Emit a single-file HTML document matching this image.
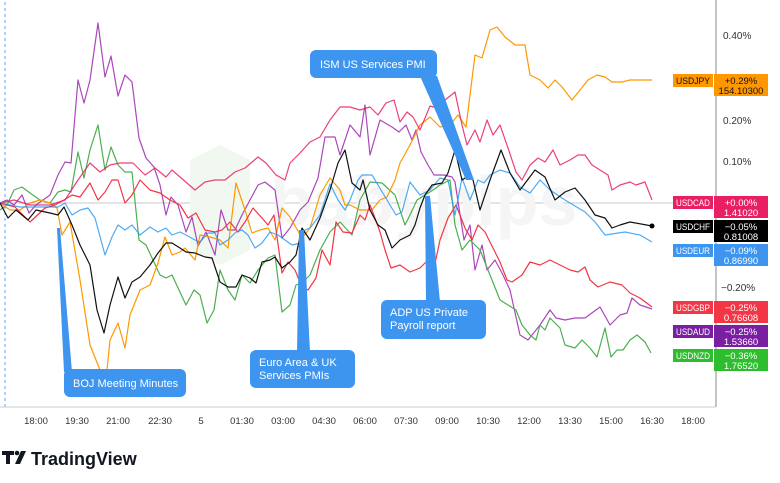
<!DOCTYPE html>
<html><head><meta charset="utf-8"><style>
body{margin:0;background:#fff;width:780px;height:483px;overflow:hidden;font-family:"Liberation Sans",sans-serif}
svg{position:absolute;left:0;top:0}
</style></head><body>
<svg width="780" height="483" viewBox="0 0 780 483" font-family="Liberation Sans, sans-serif">
<rect width="780" height="483" fill="#fff"/>
<line x1="5" y1="2" x2="5" y2="407" stroke="#6aa6f0" stroke-dasharray="3,3" stroke-width="1"/>
<line x1="0" y1="203" x2="716" y2="203" stroke="#c8c8c8"/>
<polygon points="190,160 220,145 250,160 250,250 220,265 190,250" fill="#f1f8ef"/>
<text x="270" y="225" font-size="70" font-weight="bold" fill="#f5f5f5">babypips</text>
<g fill="none" stroke-width="1.2" stroke-linejoin="round">
<polyline stroke="#9c27b0" stroke-opacity=".85" points="0,203 7,200 14,205 22,195 29,213 36,205 50,195 58,175 65,162 71,163 78,80 84,103 90,80 98,23 105,77 111,56 118,96 125,75 132,82 139,138 146,158 154,167 160,185 166,215 171,197 178,205 186,232 192,217 198,246 206,232 215,255 221,210 228,230 235,230 242,215 250,200 258,185 265,182 275,190 282,238 290,228 300,210 308,202 318,178 325,137 335,137 340,155 350,125 360,137 365,105 370,155 380,120 392,127 399,132 406,125 412,140 416,130 421,152 428,165 434,175 444,175 452,177 455,182 464,240 470,225 475,270 482,245 487,270 495,260 502,273 510,290 520,335 528,340 540,325 550,310 556,318 565,320 575,318 585,318 600,307 610,325 620,315 627,313 632,298 640,305 652,309"/>
<polyline stroke="#4caf50" points="0,210 7,205 14,190 22,187 30,193 40,200 50,203 58,192 65,190 71,192 78,152 84,178 90,150 98,125 105,170 111,147 118,165 125,172 132,172 139,240 146,245 160,275 166,278 172,275 186,305 194,290 200,295 207,323 214,310 220,270 228,290 235,300 242,275 250,283 258,270 268,258 275,255 282,312 290,305 296,285 303,282 310,275 320,250 330,232 340,222 352,235 360,200 370,182 382,183 395,195 405,225 410,215 417,200 425,195 433,190 440,185 450,180 455,225 462,250 470,240 480,250 490,275 500,300 508,305 516,310 522,325 530,335 536,340 540,325 545,330 550,318 560,328 565,345 575,348 582,340 590,348 597,357 605,328 611,357 617,350 623,350 630,340 637,335 645,342 651,353"/>
<polyline stroke="#ff9800" points="0,203 10,210 20,210 30,203 40,200 50,203 57,208 62,235 70,222 80,280 90,345 100,370 106,380 110,340 118,323 125,348 130,315 140,290 150,285 158,263 165,237 172,255 180,252 185,248 195,260 200,235 210,237 220,240 228,248 236,183 245,210 252,233 260,230 268,228 275,240 282,208 290,217 302,238 310,228 320,195 330,178 340,190 345,205 350,205 360,210 372,210 380,200 387,197 395,180 400,163 410,145 420,125 430,117 440,127 450,125 458,115 466,127 475,55 482,58 490,30 497,27 505,37 515,45 525,45 530,75 540,80 548,88 555,80 562,87 572,100 580,90 588,80 597,75 605,77 612,82 622,82 630,80 640,80 652,80"/>
<polyline stroke="#f23645" points="0,203 15,207 30,222 45,208 55,205 64,200 72,195 80,197 90,183 98,200 105,192 112,180 118,180 125,203 132,195 140,180 150,190 160,193 170,200 180,205 188,218 196,213 205,230 215,232 222,230 230,222 238,232 245,222 253,208 262,218 268,225 274,215 282,273 288,262 295,270 302,287 308,290 316,278 322,250 330,265 336,222 343,232 352,233 360,215 365,220 370,205 375,218 380,232 385,250 391,268 400,265 410,272 420,268 426,262 433,273 440,240 448,218 456,205 465,228 472,240 478,225 485,232 490,242 500,262 507,280 512,282 522,275 530,262 540,265 550,260 560,265 570,270 578,272 585,267 590,280 598,287 610,282 622,285 630,293 640,298 652,307"/>
<polyline stroke="#e91e63" stroke-opacity=".85" points="0,203 14,200 30,205 50,205 65,200 78,180 90,163 100,172 110,165 120,163 133,163 145,175 155,168 166,177 172,170 180,177 195,190 205,182 215,180 225,180 235,172 245,168 258,157 266,163 276,175 285,180 290,163 300,153 310,142 320,137 330,120 340,107 350,107 360,110 370,107 378,115 386,103 394,100 400,122 407,112 413,117 420,130 430,106 437,108 445,100 455,92 462,125 467,145 475,130 480,142 487,120 493,135 500,125 508,148 516,172 522,180 530,165 538,158 545,162 553,150 560,165 570,160 578,155 585,155 592,165 600,170 608,175 612,190 620,185 630,182 636,185 645,182 652,200"/>
<polyline stroke="#2196f3" stroke-opacity=".8" points="0,203 20,207 40,207 58,207 65,203 72,215 80,210 88,208 95,218 105,255 112,237 118,225 125,230 132,225 140,235 150,227 158,232 166,228 172,235 180,232 186,235 195,240 200,242 208,233 215,233 220,245 228,240 236,232 242,230 248,235 255,248 262,243 270,232 278,235 285,240 292,245 300,243 305,230 310,228 320,215 330,184 338,200 345,210 350,200 358,180 362,175 372,175 375,180 390,205 396,215 402,212 410,182 420,195 430,190 440,178 448,180 455,215 462,178 470,200 478,180 484,183 490,175 500,170 510,173 520,187 530,193 540,180 550,190 565,200 585,212 595,222 605,235 625,232 640,235 652,242"/>
<polyline stroke="#111" points="0,203 8,218 16,210 28,220 36,210 50,213 58,215 64,207 72,225 80,245 90,265 97,310 104,333 110,305 118,277 125,298 132,282 140,277 150,265 158,253 166,243 172,243 180,248 186,252 195,253 205,257 212,258 220,282 228,287 236,287 242,275 250,278 256,283 262,262 270,260 275,257 282,268 290,262 296,255 302,228 310,240 320,218 330,190 338,163 345,150 352,183 360,190 363,180 370,210 378,225 385,230 392,248 400,240 410,235 415,225 420,208 425,195 432,185 442,183 448,173 455,150 462,180 470,175 473,180 480,210 490,180 501,150 510,173 520,190 535,170 545,177 555,200 565,192 575,188 585,200 595,215 605,218 612,228 620,225 630,222 652,226"/>
</g>
<circle cx="652" cy="226" r="2.5" fill="#000"/>
<g fill="#3d95f0">
<rect x="310" y="50" width="127" height="28" rx="6"/>
<polygon points="420,76 437,76 474,180 466,180"/>
<rect x="64" y="369" width="122" height="28" rx="6"/>
<polygon points="57,228 60,228 72,372 64,372"/>
<rect x="250" y="350" width="105" height="38" rx="6"/>
<polygon points="299,230 304,230 310,352 297,352"/>
<rect x="381" y="300" width="105" height="39" rx="6"/>
<polygon points="425,196 430,196 440,302 426,302"/>
</g>
<g fill="#fff" font-size="11">
<text x="320" y="68">ISM US Services PMI</text>
<text x="73" y="387">BOJ Meeting Minutes</text>
<text x="259" y="366">Euro Area &amp; UK</text><text x="259" y="379">Services PMIs</text>
<text x="390" y="316">ADP US Private</text><text x="390" y="329">Payroll report</text>
</g>
<line x1="716" y1="0" x2="716" y2="407" stroke="#888"/>
<line x1="0" y1="407" x2="716" y2="407" stroke="#ccc"/>
<g font-size="10" fill="#333">
<text x="723" y="39">0.40%</text><text x="723" y="124">0.20%</text><text x="723" y="165">0.10%</text><text x="721" y="291">−0.20%</text>
</g>
<g font-size="9.5" fill="#333" text-anchor="middle">
<text x="36" y="424">18:00</text><text x="77" y="424">19:30</text><text x="118" y="424">21:00</text><text x="160" y="424">22:30</text><text x="201" y="424">5</text><text x="242" y="424">01:30</text><text x="283" y="424">03:00</text><text x="324" y="424">04:30</text><text x="365" y="424">06:00</text><text x="406" y="424">07:30</text><text x="447" y="424">09:00</text><text x="488" y="424">10:30</text><text x="529" y="424">12:00</text><text x="570" y="424">13:30</text><text x="611" y="424">15:00</text><text x="652" y="424">16:30</text><text x="693" y="424">18:00</text>
</g>
<g font-size="9.5">
<rect x="673" y="74" width="40" height="13" fill="#ff9800"/><rect x="714" y="74" width="54" height="22" fill="#ff9800"/>
<text x="676" y="84" fill="#111" textLength="34" lengthAdjust="spacingAndGlyphs">USDJPY</text><text x="741" y="84" fill="#111" text-anchor="middle">+0.29%</text><text x="741" y="94" fill="#111" text-anchor="middle">154.10300</text>
<rect x="673" y="196" width="40" height="13" fill="#e91e63"/><rect x="714" y="196" width="54" height="22" fill="#e91e63"/>
<text x="676" y="206" fill="#fff" textLength="34" lengthAdjust="spacingAndGlyphs">USDCAD</text><text x="741" y="206" fill="#fff" text-anchor="middle">+0.00%</text><text x="741" y="216" fill="#fff" text-anchor="middle">1.41020</text>
<rect x="673" y="220" width="40" height="13" fill="#000"/><rect x="714" y="220" width="54" height="22" fill="#000"/>
<text x="676" y="230" fill="#fff" textLength="34" lengthAdjust="spacingAndGlyphs">USDCHF</text><text x="741" y="230" fill="#fff" text-anchor="middle">−0.05%</text><text x="741" y="240" fill="#fff" text-anchor="middle">0.81008</text>
<rect x="673" y="244" width="40" height="13" fill="#3d95f0"/><rect x="714" y="244" width="54" height="22" fill="#3d95f0"/>
<text x="676" y="254" fill="#fff" textLength="34" lengthAdjust="spacingAndGlyphs">USDEUR</text><text x="741" y="254" fill="#fff" text-anchor="middle">−0.09%</text><text x="741" y="264" fill="#fff" text-anchor="middle">0.86990</text>
<rect x="673" y="301" width="40" height="13" fill="#f23645"/><rect x="714" y="301" width="54" height="22" fill="#f23645"/>
<text x="676" y="311" fill="#fff" textLength="34" lengthAdjust="spacingAndGlyphs">USDGBP</text><text x="741" y="311" fill="#fff" text-anchor="middle">−0.25%</text><text x="741" y="321" fill="#fff" text-anchor="middle">0.76608</text>
<rect x="673" y="325" width="40" height="13" fill="#7b1fa2"/><rect x="714" y="325" width="54" height="22" fill="#7b1fa2"/>
<text x="676" y="335" fill="#fff" textLength="34" lengthAdjust="spacingAndGlyphs">USDAUD</text><text x="741" y="335" fill="#fff" text-anchor="middle">−0.25%</text><text x="741" y="345" fill="#fff" text-anchor="middle">1.53660</text>
<rect x="673" y="349" width="40" height="13" fill="#2ebd2e"/><rect x="714" y="349" width="54" height="22" fill="#2ebd2e"/>
<text x="676" y="359" fill="#fff" textLength="34" lengthAdjust="spacingAndGlyphs">USDNZD</text><text x="741" y="359" fill="#fff" text-anchor="middle">−0.36%</text><text x="741" y="369" fill="#fff" text-anchor="middle">1.76520</text>
</g>
<g fill="#131722">
<rect x="2" y="451" width="12" height="4"/><rect x="6" y="451" width="4" height="13"/>
<circle cx="17" cy="453" r="2.3"/><polygon points="21,451 26,451 20,464 15,464"/>
<text x="31" y="465" font-size="18" font-weight="bold">TradingView</text>
</g>
</svg>
</body></html>
